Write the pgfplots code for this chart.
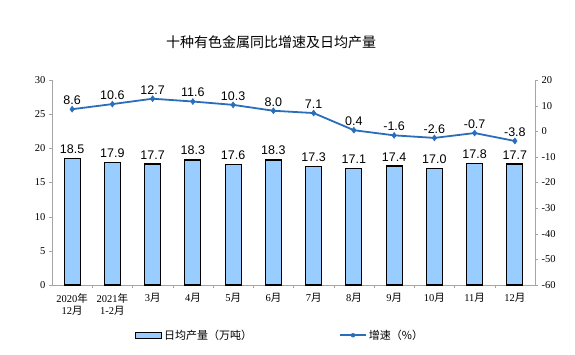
\documentclass[border=0pt]{standalone}
\usepackage{fontspec}
\setmainfont{Liberation Serif}
\setsansfont{Liberation Sans}
\newfontfamily\cjk{Noto Sans CJK SC}
\usepackage{pgfplots}
\pgfplotsset{compat=1.18}
\definecolor{barfill}{HTML}{99CCFF}
\definecolor{linec}{HTML}{2A6EBB}
\definecolor{axgray}{HTML}{A6A6A6}
\begin{document}
\begin{tikzpicture}[x=1pt,y=1pt]
\useasboundingbox (0,0) rectangle (575,355);
\node[font=\cjk\fontsize{14}{16}\selectfont] at (271,313) {十种有色金属同比增速及日均产量};
\begin{axis}[
  at={(52pt,70pt)}, anchor=south west,
  scale only axis, width=483pt, height=205pt,
  xmin=-0.5, xmax=11.5, ymin=0, ymax=30,
  ytick={0,5,...,30},
  xtick={0,...,11},
  xticklabels={{2020\cjk{年}\\12\cjk{月}},{2021\cjk{年}\\1-2\cjk{月}},3\cjk{月},4\cjk{月},5\cjk{月},6\cjk{月},7\cjk{月},8\cjk{月},9\cjk{月},10\cjk{月},11\cjk{月},12\cjk{月}},
  xticklabel style={align=center, font=\fontsize{10.5}{12.5}\selectfont, yshift=-2pt},
  minor xtick={0.5,1.5,...,10.5},
  major x tick style={draw=none},
  minor x tick style={axgray},
  minor tick length=3pt,
  tick align=outside,
  ytick style={axgray},
  major tick length=3pt,
  yticklabel style={font=\fontsize{10.5}{12}\selectfont},
  /pgf/number format/assume math mode=true,
  axis line style={axgray},
  axis x line*=bottom, axis y line*=left,
  clip=false,
  legend style={at={(0.472,-0.245)}, anchor=center, draw=none, fill=none,
    legend columns=2, font=\cjk\fontsize{11}{13}\selectfont,
    /tikz/every even column/.append style={column sep=85pt}},
  legend image code/.code={\draw[#1] (0pt,-3pt) rectangle (26pt,3pt);},
]
\addplot[ybar, bar width=16pt, fill=barfill, draw=black, line width=1.2pt,
  nodes near coords, every node near coord/.append style={font=\sffamily\fontsize{12.5}{14}\selectfont, black, yshift=1pt},
  point meta=explicit symbolic]
  coordinates {(0,18.5)[18.5] (1,17.9)[17.9] (2,17.7)[17.7] (3,18.3)[18.3] (4,17.6)[17.6] (5,18.3)[18.3] (6,17.3)[17.3] (7,17.1)[17.1] (8,17.4)[17.4] (9,17.0)[17.0] (10,17.8)[17.8] (11,17.7)[17.7]};
\addlegendentry{日均产量（万吨）}
\addlegendimage{legend image code/.code={\draw[linec,line width=1.8pt] (0pt,0pt) -- (26pt,0pt); \fill[linec] (13pt,0pt) circle (2pt);}}
\addlegendentry{增速（\%）}
\end{axis}
\begin{axis}[
  at={(52pt,70pt)}, anchor=south west,
  scale only axis, width=483pt, height=205pt,
  xmin=-0.5, xmax=11.5, ymin=-60, ymax=20,
  ytick={-60,-50,...,20},
  axis x line=none, axis y line*=right,
  axis line style={axgray},
  ytick style={axgray},
  tick align=outside, major tick length=3pt,
  yticklabel style={font=\fontsize{10.5}{12}\selectfont},
  /pgf/number format/assume math mode=true,
  clip=false,
]
\addplot[linec, line width=1.8pt, mark=diamond*, mark size=3pt, mark options={fill=linec, draw=linec, line width=0.5pt},
  nodes near coords, every node near coord/.append style={font=\sffamily\fontsize{12.5}{14}\selectfont, black, yshift=1pt},
  point meta=explicit symbolic]
  coordinates {(0,8.6)[8.6] (1,10.6)[10.6] (2,12.7)[12.7] (3,11.6)[11.6] (4,10.3)[10.3] (5,8.0)[8.0] (6,7.1)[7.1] (7,0.4)[0.4] (8,-1.6)[-1.6] (9,-2.6)[-2.6] (10,-0.7)[-0.7] (11,-3.8)[-3.8]};
\end{axis}
\end{tikzpicture}
\end{document}
